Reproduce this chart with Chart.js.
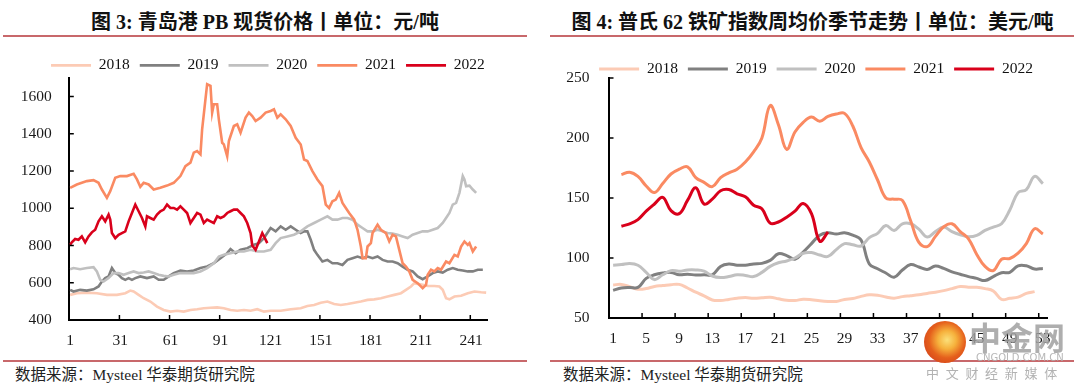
<!DOCTYPE html>
<html><head><meta charset="utf-8">
<script src="https://cdn.jsdelivr.net/npm/chart.js@4.4.1/dist/chart.umd.min.js"></script>
<style>
html,body{margin:0;padding:0;background:#fff;}
body{width:1080px;height:390px;overflow:hidden;position:relative;font-family:"Liberation Serif","Noto Sans CJK SC",serif;}
.title{position:absolute;top:9px;height:26px;line-height:26px;font-size:20px;font-weight:700;color:#111;white-space:nowrap;text-align:center;}
.rule{position:absolute;height:2px;background:#c8686b;}
.src{position:absolute;top:365px;height:20px;line-height:20px;font-size:15.5px;color:#222;white-space:nowrap;}
.cv{position:absolute;top:40px;width:540px;height:320px;}
.wm{position:absolute;white-space:nowrap;z-index:5;}
</style></head>
<body>
<div class="title" style="left:0;width:530px;">图 3: 青岛港 PB 现货价格丨单位：元/吨</div>
<div class="title" style="left:550px;width:525px;">图 4: 普氏 62 铁矿指数周均价季节走势丨单位：美元/吨</div>
<div class="rule" style="left:3px;width:524px;top:35px;"></div>
<div class="rule" style="left:550px;width:524px;top:35px;"></div>
<div class="rule" style="left:3px;width:524px;top:360px;"></div>
<div class="rule" style="left:550px;width:524px;top:360px;"></div>
<div class="src" style="left:15px;">数据来源：Mysteel 华泰期货研究院</div>
<div class="src" style="left:563px;">数据来源：Mysteel 华泰期货研究院</div>
<div class="cv" style="left:0;"><canvas id="c1" width="540" height="320"></canvas></div>
<div class="cv" style="left:540px;"><canvas id="c2" width="540" height="320"></canvas></div>
<div class="wm" style="left:924px;top:321px;width:42px;height:42px;border-radius:50%;background:radial-gradient(circle at 55% 45%,#fbe07a 0,#f6b13c 28%,#e5601c 55%,#c9301a 100%);"></div>
<div class="wm" style="left:969px;top:319px;font-size:32px;line-height:34px;font-weight:700;color:rgba(160,160,160,0.85);font-family:'Noto Sans CJK SC';">中金网</div>
<div class="wm" style="left:976px;top:352px;font-size:10px;line-height:12px;color:rgba(175,175,175,0.9);font-family:'DejaVu Sans';">CNGOLD.COM.CN</div>
<div class="wm" style="left:926px;top:365px;font-size:13px;line-height:16px;letter-spacing:6.7px;color:rgba(170,170,170,0.9);font-family:'Noto Sans CJK SC';">中文财经新媒体</div>
<script>
// ---------- Figure 3: Qingdao PB spot price (daily index) ----------
const pbTickDays = [1,31,61,91,121,151,181,211,241];
const pbYTicks = [400,600,800,1000,1200,1400,1600];

const pbDays2018 = [1,5,11,17,23,29,34,37,39,42,45,49,53,57,61,65,69,73,77,81,85,89,93,97,101,105,109,113,117,121,127,133,139,143,147,151,155,159,163,167,171,175,179,183,187,191,195,199,202,205,207,209,212,215,219,222,224,226,228,231,235,239,243,247,250];
const pb2018 = [535,544,547,544,535,535,544,558,553,535,517,499,472,454,445,450,445,454,458,463,466,468,463,454,450,454,450,458,445,450,450,458,463,475,481,493,499,486,481,486,493,499,508,511,517,526,535,544,562,580,598,594,589,583,583,580,562,517,511,526,530,544,553,549,547];

const pbDays2019 = [1,3,7,11,15,18,20,22,24,26,28,30,32,34,36,38,40,43,47,51,54,57,60,63,67,71,75,79,83,87,91,95,97,100,103,107,111,114,117,121,124,127,130,133,136,139,141,143,145,147,149,152,155,158,161,164,167,170,173,176,179,182,185,188,191,194,197,200,203,206,209,212,215,218,221,224,227,230,233,236,239,242,245,248];
const pb2019 = [562,553,562,558,565,580,607,625,634,679,652,643,625,616,625,616,625,634,625,634,616,616,634,652,666,661,666,679,688,705,732,759,781,759,777,786,804,813,840,894,876,903,885,903,885,867,876,876,831,777,750,714,723,705,705,696,723,732,741,732,741,732,741,723,714,714,705,687,670,661,634,619,634,652,661,655,670,679,670,666,661,661,670,670];

const pbDays2020 = [1,3,7,11,15,17,19,21,24,27,30,33,36,39,42,45,48,51,54,57,60,63,67,71,75,79,83,87,90,93,97,101,105,109,113,117,121,124,127,131,135,139,143,147,151,155,158,161,164,167,170,173,176,179,182,185,188,191,194,197,200,203,206,209,212,215,218,221,224,226,228,230,232,234,236,237,238,240,242,244];
const pb2020 = [673,679,673,679,684,661,616,607,625,652,652,643,652,661,652,655,661,652,643,637,634,643,652,652,652,661,679,705,741,750,759,768,768,777,768,768,777,813,840,849,858,876,903,921,939,957,939,939,948,948,939,912,894,876,876,885,876,867,864,858,849,840,858,867,876,876,885,894,921,948,975,1020,1029,1083,1173,1155,1119,1122,1101,1083];

const pbDays2021 = [1,5,11,15,18,20,23,25,28,31,35,39,41,43,45,48,51,55,59,63,67,70,73,75,77,79,80,82,83,85,86,87,89,90,92,93,95,96,99,101,103,106,108,110,112,115,118,121,123,125,127,130,133,136,139,141,143,146,149,152,154,156,158,160,162,164,166,168,171,173,175,176,178,179,181,182,185,187,190,192,194,196,198,200,202,204,206,209,212,214,215,217,219,221,223,226,228,231,233,235,237,239,240,242,244];
const pb2021 = [1110,1128,1146,1151,1137,1101,1056,1092,1164,1173,1173,1185,1155,1115,1137,1128,1101,1110,1122,1137,1173,1227,1245,1299,1307,1290,1424,1586,1667,1658,1514,1559,1559,1478,1352,1343,1280,1361,1442,1451,1406,1487,1514,1496,1469,1487,1514,1523,1532,1487,1505,1478,1442,1379,1343,1262,1254,1200,1155,1119,1020,1002,1038,1047,1083,1029,1002,975,939,885,795,732,732,795,813,867,912,885,867,822,858,849,777,705,687,661,616,598,571,589,643,670,661,679,670,714,705,750,741,795,822,804,813,768,795];

const pbDays2022 = [1,2,4,6,8,10,12,14,16,18,20,22,24,25,26,28,30,32,34,36,38,40,42,44,46,47,49,51,53,55,57,59,61,63,65,67,69,71,73,75,77,79,81,83,85,87,89,91,93,95,97,99,101,103,105,107,109,110,112,114,116,117,119];
const pb2022 = [804,817,835,831,849,817,849,871,885,930,957,930,966,939,867,840,858,867,876,930,975,1020,984,948,903,957,948,939,966,984,993,1020,1002,1002,993,1011,993,975,921,948,975,966,921,939,930,921,957,948,957,975,984,993,993,975,957,921,867,800,777,822,867,850,813];

// ---------- Figure 4: Platts 62% iron ore weekly average ----------
const weeks = ['1','2','3','4','5','6','7','8','9','10','11','12','13','14','15','16','17','18','19','20','21','22','23','24','25','26','27','28','29','30','31','32','33','34','35','36','37','38','39','40','41','42','43','44','45','46','47','48','49','50','51','52','53'];
const feYTicks = [50,100,150,200,250];
const fe2018 = [77.5,78,76,74,74.5,76.3,77,77.8,78,75,71.5,68.5,65,64.6,65.5,66.5,67,66.5,66.8,67.3,66,64.7,64.6,65.6,65.2,64.3,63.8,63.8,65.5,66.3,68,69.3,69,67.5,66.5,67.8,68.5,69.3,70.5,71.5,72.8,74.5,76.2,75.7,75.6,74.5,72.5,65.5,66.4,67.4,70.5,72,null];
const fe2019 = [73,75,75.5,75.5,83,86,87.5,88,86,86.5,85.8,86,86,93,95,94,94,95,95.5,98,103.5,102,99,105,112,119,121,120,121,119,115,95,91,87.5,84,90,94.5,92.5,90.5,93.3,91.3,88.5,86.5,84.5,83,81.2,84.5,87.7,88,93.5,93.5,90.8,91.3];
const fe2020 = [94,94.5,95.5,94,88,82,86,89.5,89,90,90,89,85,83.7,84.5,86,85.5,84.5,88,93,96,97.5,100,104,104.5,102.5,101.3,107,112,111,110,117,120.5,127,123,128.5,128.5,124,117.5,122,125.8,122,119.4,117.7,118.9,123,125.8,128.5,140,154.5,157,168,162];
const fe2021 = [null,169.5,171.5,168,160,154.5,162,170,174,176,167,163,159.5,167,171,174,180,188.5,200,227,211,190.5,205,213,217.5,214,218,220,220.5,210,192,180,165,150,149,148,131,113,109.5,118,126,128.5,122,116,103,93,89.5,99,99.6,104,112,124.4,120];
const fe2022 = [null,126.5,128.5,132,139,145,150.5,139.5,137,148,158.5,145,149,156,157,153.5,151,144,141,129,130,134,139,145.5,137,114,121.6,null,null,null,null,null,null,null,null,null,null,null,null,null,null,null,null,null,null,null,null,null,null,null,null,null,null];

const yearLabels = ['2018','2019','2020','2021','2022'];
const yearColors = ['#fccbb5','#808080','#c0c0c0','#fa8a62','#d9001b'];

const FONT = "'Liberation Serif', 'Times New Roman', serif";
const tickFont = {family: FONT, size: 15.5};
const legendFont = {family: FONT, size: 15.5};

function legendBox(h, dx){
  return {id:'legendBox',
    beforeInit(chart){
      const fit = chart.legend.fit;
      chart.legend.fit = function(){ fit.call(this); this.height = h; };
    },
    afterLayout(chart){ chart.legend.left += dx; chart.legend.right += dx; }
  };
}
function innerTicks(xMarks){
  return {id:'innerTicks', afterDraw(chart){
    const {ctx, chartArea:a, scales:{x, y}} = chart;
    ctx.save(); ctx.strokeStyle = '#000'; ctx.lineWidth = 1.5; ctx.beginPath();
    xMarks(x).forEach(px => { ctx.moveTo(px, a.bottom); ctx.lineTo(px, a.bottom - 5); });
    y.ticks.forEach(t => { const py = y.getPixelForValue(t.value); if (py < a.bottom - 2) { ctx.moveTo(a.left, py); ctx.lineTo(a.left + 4.5, py); } });
    ctx.stroke(); ctx.restore();
  }};
}
function legendOpts(width, pad){
  return {
    display: true, position: 'top', align: 'center',
    labels: {usePointStyle: true, pointStyle: 'line', pointStyleWidth: width, padding: pad,
      font: legendFont, color: '#111', sort: (a, b) => a.datasetIndex - b.datasetIndex}
  };
}
const axisBorder = {display: true, color: '#000', width: 2};

// Chart 1
const pbSeries = [[pbDays2018, pb2018], [pbDays2019, pb2019], [pbDays2020, pb2020], [pbDays2021, pb2021], [pbDays2022, pb2022]];
new Chart(document.getElementById('c1'), {
  type: 'line',
  data: {
    datasets: pbSeries.map((s, i) => ({
      label: yearLabels[i],
      data: s[0].map((d, k) => ({x: d, y: s[1][k]})),
      borderColor: yearColors[i], backgroundColor: yearColors[i],
      borderWidth: 2.6, pointRadius: 0, tension: 0, order: 4 - i, pointStyle: 'line'
    }))
  },
  options: {
    responsive: false, animation: false, events: [],
    layout: {padding: {left: 0, right: 53, top: 7.65, bottom: 0}},
    plugins: {legend: legendOpts(40, 10), tooltip: {enabled: false}},
    scales: {
      x: {type: 'linear', min: 0.5, max: 250.5,
        afterBuildTicks: s => { s.ticks = pbTickDays.map(v => ({value: v})); },
        afterFit: s => { s.height = 40; },
        ticks: {autoSkip: false, maxRotation: 0, padding: 11.5, font: tickFont, color: '#1a1a1a', callback: v => String(v)},
        grid: {display: false, drawTicks: false}, border: axisBorder},
      y: {type: 'linear', min: 400, max: 1700,
        afterBuildTicks: s => { s.ticks = pbYTicks.map(v => ({value: v})); },
        afterFit: s => { s.width = 69.3; },
        ticks: {padding: 17.5, font: tickFont, color: '#1a1a1a', callback: v => String(v)},
        grid: {display: false, drawTicks: false}, border: axisBorder}
    }
  },
  plugins: [legendBox(30.35, 24.4), innerTicks(x => pbTickDays.slice(1).map(d => x.getPixelForValue(d - 0.5)))]
});

// Chart 2
const feSeries = [fe2018, fe2019, fe2020, fe2021, fe2022];
new Chart(document.getElementById('c2'), {
  type: 'line',
  data: {
    labels: weeks,
    datasets: feSeries.map((s, i) => ({
      label: yearLabels[i], data: s,
      borderColor: yearColors[i], backgroundColor: yearColors[i],
      borderWidth: 3, pointRadius: 0, tension: 0.4, order: 4 - i, pointStyle: 'line'
    }))
  },
  options: {
    responsive: false, animation: false, events: [],
    layout: {padding: {left: 0, right: 33, top: 11.15, bottom: 0}},
    plugins: {legend: legendOpts(40, 10), tooltip: {enabled: false}},
    scales: {
      x: {type: 'category', offset: true,
        afterFit: s => { s.height = 42; },
        ticks: {autoSkip: false, maxRotation: 0, padding: 11.5, font: tickFont, color: '#1a1a1a',
          callback: (v, i) => (i % 4 === 0 ? weeks[i] : '')},
        grid: {display: false, drawTicks: false, offset: true}, border: axisBorder},
      y: {type: 'linear', min: 50, max: 250,
        afterBuildTicks: s => { s.ticks = feYTicks.map(v => ({value: v})); },
        afterFit: s => { s.width = 69; },
        ticks: {padding: 19.5, font: tickFont, color: '#1a1a1a', callback: v => String(v)},
        grid: {display: false, drawTicks: false}, border: axisBorder}
    }
  },
  plugins: [legendBox(26.85, 22.5), innerTicks(x => {
    const half = (x.getPixelForValue(1) - x.getPixelForValue(0)) / 2;
    return weeks.map((w, i) => i).filter(i => i > 0 && i % 4 === 0).map(i => x.getPixelForValue(i) - half);
  })]
});
</script>
</body></html>
